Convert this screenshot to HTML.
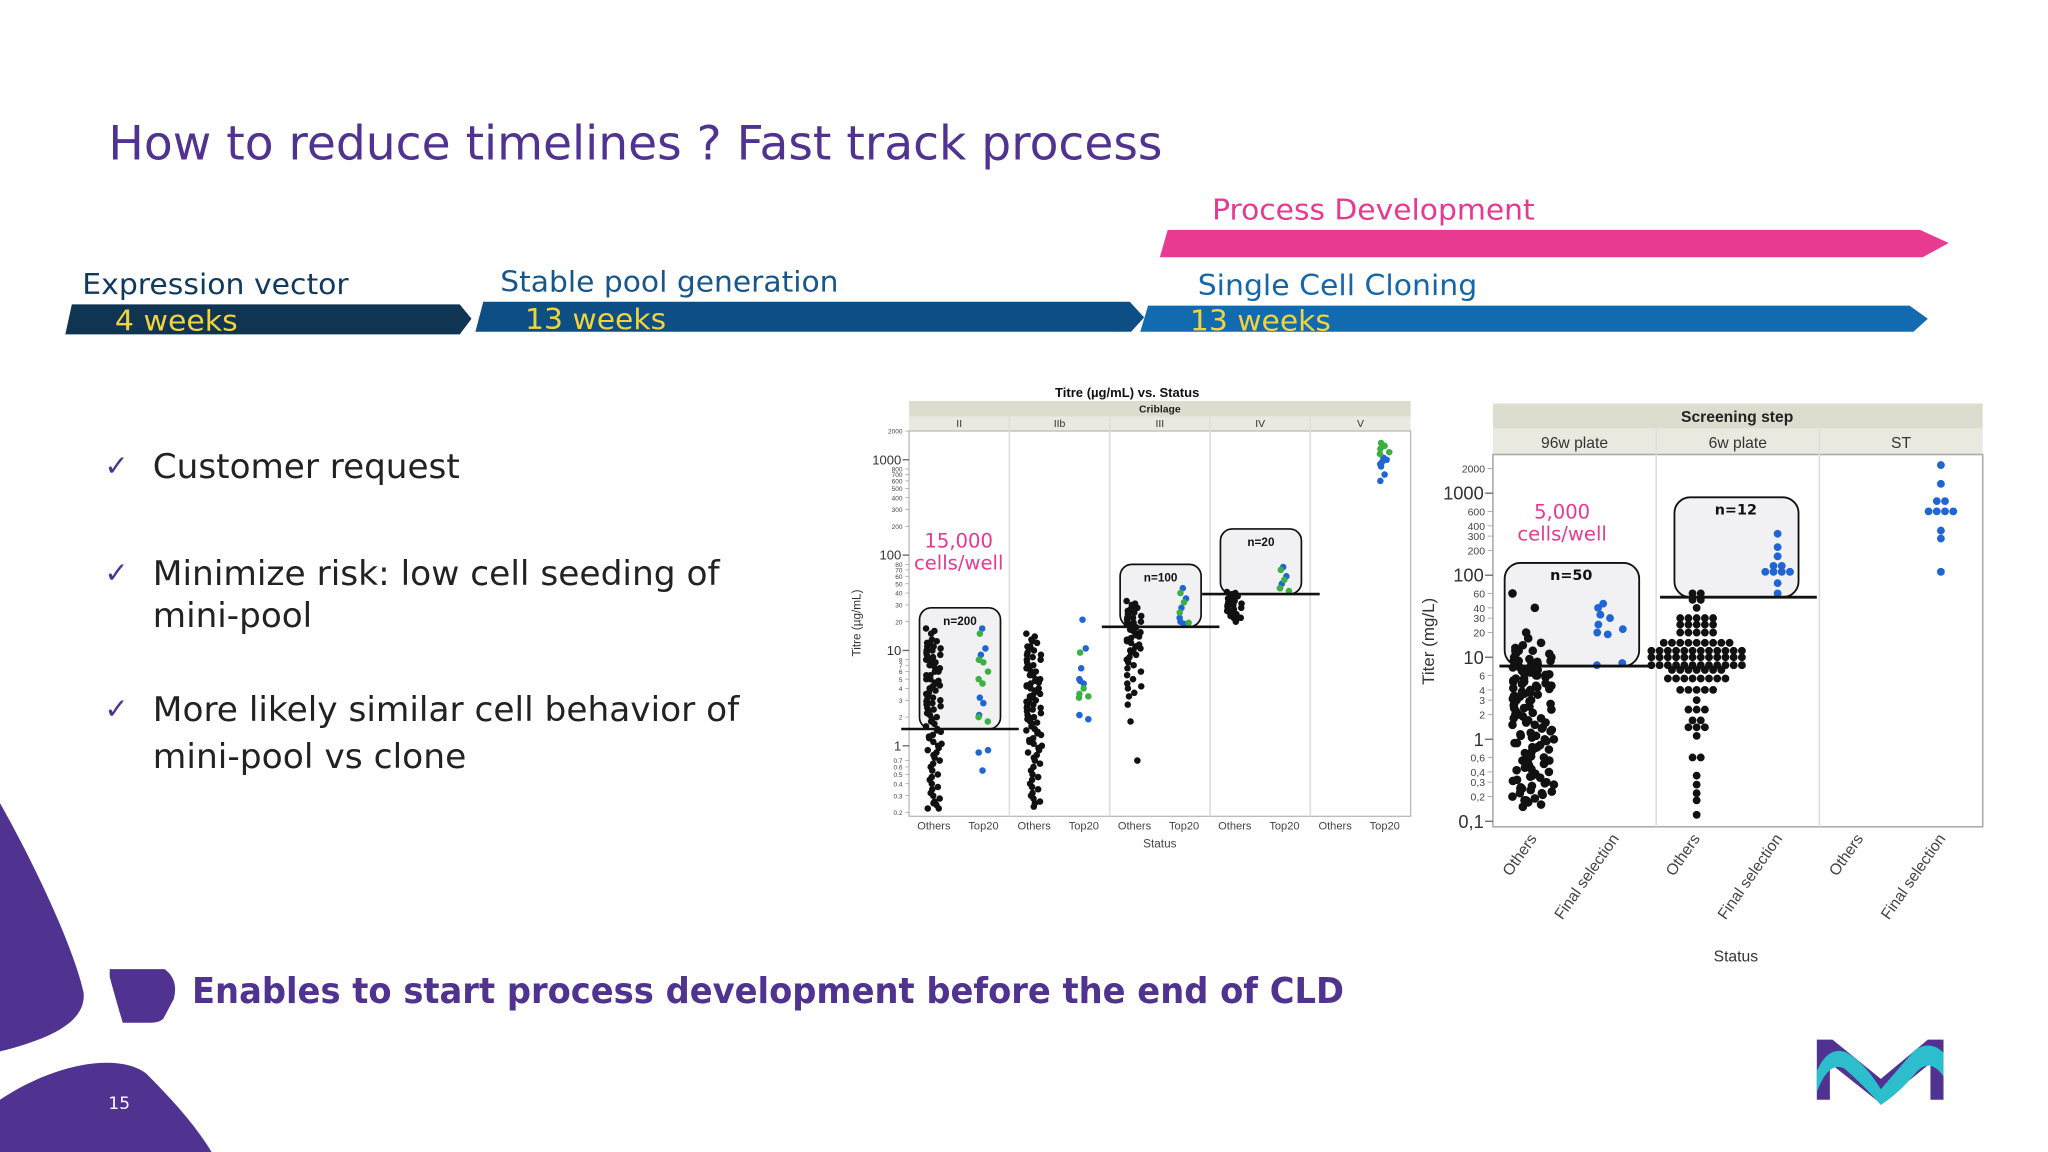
<!DOCTYPE html>
<html><head><meta charset="utf-8"><style>
html,body{margin:0;padding:0;background:#fff;}
svg{display:block;}
.t{font-family:"DejaVu Sans","Liberation Sans",sans-serif;}
.s{font-family:"Liberation Sans",sans-serif;}
</style></head><body>
<svg id="page" width="2048" height="1152" viewBox="0 0 1568 882" xmlns="http://www.w3.org/2000/svg">
<rect width="1568" height="882" fill="#fff"/>
<text class="t" x="83" y="122" font-size="36" fill="#503291" textLength="807" lengthAdjust="spacingAndGlyphs">How to reduce timelines ? Fast track process</text>

<g>
<text class="t" x="928" y="168" font-size="22" fill="#e6398f" textLength="247" lengthAdjust="spacingAndGlyphs">Process Development</text>
<polygon points="894,176 1470,176 1492,186 1472,197 888,197" fill="#e93a91"/>
<text class="t" x="63" y="225" font-size="22" fill="#0f3a5e" textLength="204" lengthAdjust="spacingAndGlyphs">Expression vector</text>
<polygon points="55,233 352,233 361,244 352,256 50,256" fill="#0f3553"/>
<text class="t" x="88" y="253" font-size="22" fill="#f2d33c" textLength="94" lengthAdjust="spacingAndGlyphs">4 weeks</text>
<text class="t" x="383" y="223" font-size="22" fill="#17568a" textLength="259" lengthAdjust="spacingAndGlyphs">Stable pool generation</text>
<polygon points="370,231 865,231 876,243 866,254 364,254" fill="#0d4f84"/>
<text class="t" x="402" y="252" font-size="22" fill="#f2d33c" textLength="108" lengthAdjust="spacingAndGlyphs">13 weeks</text>
<text class="t" x="917" y="226" font-size="22" fill="#1667a8" textLength="214" lengthAdjust="spacingAndGlyphs">Single Cell Cloning</text>
<polygon points="879,234 1462,234 1476,244 1465,254 873,254" fill="#126bb0"/>
<text class="t" x="911" y="253" font-size="22" fill="#f2d33c" textLength="108" lengthAdjust="spacingAndGlyphs">13 weeks</text>
</g>

<g fill="#222">
<text class="t" x="80" y="364" font-size="22" fill="#503291">✓</text>
<text class="t" x="117" y="366" font-size="26" textLength="235" lengthAdjust="spacingAndGlyphs">Customer request</text>
<text class="t" x="80" y="446" font-size="22" fill="#503291">✓</text>
<text class="t" x="117" y="448" font-size="26" textLength="434" lengthAdjust="spacingAndGlyphs">Minimize risk: low cell seeding of</text>
<text class="t" x="117" y="480" font-size="26" textLength="122" lengthAdjust="spacingAndGlyphs">mini-pool</text>
<text class="t" x="80" y="550" font-size="22" fill="#503291">✓</text>
<text class="t" x="117" y="552" font-size="26" textLength="449" lengthAdjust="spacingAndGlyphs">More likely similar cell behavior of</text>
<text class="t" x="117" y="588" font-size="26" textLength="240" lengthAdjust="spacingAndGlyphs">mini-pool vs clone</text>
</g>

<path d="M0,615 C20,650 55,720 64,760 C66,782 40,795 0,805 Z" fill="#503291"/>
<path d="M0,842 C40,815 90,805 112,822 C132,842 150,862 162,882 L0,882 Z" fill="#503291"/>
<text class="t" x="83" y="849" font-size="13" fill="#fff">15</text>
<path d="M84,742 L126,742 Q137,750 133,765 L125,780 Q122,783 116,783 L94,783 Q90,770 84,748 Z" fill="#503291"/>
<text class="t" x="147" y="768" font-size="27" font-weight="bold" fill="#503291" textLength="882" lengthAdjust="spacingAndGlyphs">Enables to start process development before the end of CLD</text>

<g>
<path d="M1391,796 L1403,796 L1440,826 L1476,796 L1488,796 L1488,842 L1478,842 L1478,814 L1440,845 L1401,814 L1401,842 L1391,842 Z" fill="#503291"/>
<path d="M1391,820 Q1400,800 1414,806 Q1428,814 1440,834 Q1452,820 1466,804 Q1478,796 1488,806 L1488,824 Q1478,810 1468,820 Q1455,836 1440,846 Q1426,830 1412,818 Q1400,812 1391,836 Z" fill="#2dbecd"/>
</g>

<g id="left-chart"></g>
<g id="right-chart"></g>
</svg>
<script>
// ---------- Left chart data ----------
const leftPanels = ["II","IIb","III","IV","V"];
const leftStatus = ["Others","Top20"];
const leftMajorTicks = [1000,100,10,1];
const leftMinorTicks = [2000,800,700,600,500,400,300,200,80,70,60,50,40,30,20,8,7,6,5,4,3,2,0.7,0.6,0.5,0.4,0.3,0.2];
const othII = [17,16,15,13,12.5,12,12,11.5,11,11,10.5,10,10,9.5,9,9,8.5,8.5,8,8,7.5,7.5,7,7,6.5,6.5,6,6,5.5,5.5,5,5,4.8,4.6,4.5,4.3,4.2,4,4,3.8,3.6,3.5,3.3,3.2,3,3,2.9,2.8,2.7,2.6,2.5,2.4,2.3,2.2,2.1,2,1.9,1.8,1.7,1.6,1.5,1.45,1.4,1.3,1.25,1.2,1.1,1.05,1,0.95,0.9,0.85,0.8,0.75,0.7,0.65,0.6,0.55,0.5,0.47,0.44,0.4,0.37,0.35,0.32,0.3,0.28,0.26,0.25,0.24,0.22,0.22];
const othIIb = [15,14,13,12.5,12,11,11,10.5,10,9.5,9,9,8.5,8,8,7.5,7,7,6.5,6.5,6,6,5.5,5.5,5,5,4.8,4.6,4.5,4.3,4.2,4,4,3.8,3.7,3.5,3.4,3.3,3.2,3,3,2.9,2.8,2.7,2.6,2.5,2.5,2.4,2.3,2.2,2.1,2,2,1.9,1.8,1.75,1.7,1.6,1.5,1.45,1.4,1.35,1.3,1.2,1.15,1.1,1.05,1,0.95,0.9,0.85,0.8,0.75,0.7,0.65,0.6,0.55,0.5,0.47,0.44,0.4,0.37,0.35,0.32,0.3,0.28,0.26,0.25,0.23];
const othIII = [33,31,30,29,28,27,26,25,25,24,23,22,22,21,20,20,19.5,19,18.5,18,17.5,17,16.5,16,15.5,15,14.5,14,13.5,13,12.5,12,11.5,11,11,10.5,10,10,9.5,9,8.5,8,7.5,7,6.5,6,5.5,5,4.5,4.2,4,3.6,3.3,2.7,1.8,0.7];
const othIV = [41,40,39,38,37,36,35,34,33,32,31,30,30,29,28,28,27,26,26,25,24,24,23,22,22,21,20];
const othV = [];
const topBlue = [[17,10.5,9,8,3.2,2.8,2.1,0.9,0.85,0.55],[21,10.5,6.5,5,4.8,4.5,2.1,1.9],[45,35,28,22,20,19],[75,60,50,45],[1050,1000,950,900,850,700,600]];
const topGreen = [[15,7.5,8,6,5,4.5,2,1.8],[9.5,4,3.5,3.3,3.2],[40,32,25,19.5],[70,55,45,42],[1500,1400,1300,1200,1150]];
const leftOthers = [othII,othIIb,othIII,othIV,othV];
const leftThresh = [1.5,null,17.7,39,null];
const leftBoxTop = [28,null,80,188,null];
const leftN = ["n=200",null,"n=100","n=20",null];

// ---------- Right chart data ----------
const rightPanels = ["96w plate","6w plate","ST"];
const rightStatus = ["Others","Final selection"];
const rightMajorTicks = [1000,100,10,1,0.1];
const rightMajorLabels = ["1000","100","10","1","0,1"];
const rightMinorTicks = [2000,600,400,300,200,60,40,30,20,6,4,3,2,0.6,0.4,0.3,0.2];
const rightMinorLabels = ["2000","600","400","300","200","60","40","30","20","6","4","3","2","0,6","0,4","0,3","0,2"];
const oth96 = [60,40,20,17,15,14,13,12,12,11,10,10,9.5,9,9,8.5,8,8,7.5,7.5,7,7,6.8,6.5,6.2,6,6,5.7,5.5,5.2,5,5,4.8,4.5,4.3,4.1,4,3.8,3.6,3.5,3.3,3.1,3,3,2.8,2.7,2.6,2.5,2.4,2.3,2.2,2.1,2,2,1.9,1.8,1.7,1.6,1.5,1.5,1.4,1.35,1.3,1.2,1.15,1.1,1.05,1,1,0.95,0.9,0.85,0.8,0.78,0.75,0.7,0.68,0.65,0.6,0.58,0.55,0.52,0.5,0.48,0.45,0.43,0.4,0.38,0.36,0.34,0.32,0.3,0.29,0.28,0.27,0.26,0.25,0.24,0.23,0.22,0.21,0.2,0.19,0.18,0.17,0.16,0.15,12,9,7,5.5,4.5,3.4,2.9,1.8,1.25,0.9,0.62,0.42,0.31,0.22,8.2,6.3,4.7,3.7,11,8.8,7.2,6.1,5.1,4.2,3.2,2.4,1.6,1.1,0.8,0.55,0.35,0.25,0.18];
const fin96 = [45,40,33,30,25,22,20,19,8,8.5];
const oth6 = [60,60,50,50,40,30,30,30,30,30,25,25,25,25,25,20,20,20,20,20,15,15,15,15,15,15,15,15,15,12,12,12,12,12,12,12,12,12,12,12,12,10,10,10,10,10,10,10,10,10,10,10,10,8,8,8,8,8,8,8,8,8,8,8,8,7,7,7,7,7,7,7,5.5,5.5,5.5,5.5,5.5,5.5,5.5,5.5,4,4,4,4,4,3,2.3,2.3,2.3,1.7,1.7,1.4,1.4,1.4,1.1,0.6,0.6,0.36,0.28,0.22,0.18,0.12];
const fin6 = [320,220,170,130,130,110,110,110,110,80,60];
const finST = [2200,1300,800,800,600,600,600,600,350,280,110];
const rightOthers = [oth96,oth6,[]];
const rightFinal = [fin96,fin6,finST];
const rightThresh = [7.8,54,null];
const rightBoxTop = [141,890,null];
const rightN = ["n=50","n=12",null];

const NS="http://www.w3.org/2000/svg";
function mk(parent,tag,attrs,text){const e=document.createElementNS(NS,tag);for(const k in attrs)e.setAttribute(k,attrs[k]);if(text!==undefined)e.textContent=text;parent.appendChild(e);return e;}
function jit(k){return ((k*7919+k*k*13)%101)/50.5-1;}

// ---------- Left chart ----------
(function(){
const g=document.getElementById('left-chart');
const X0=696,X1=1080,Y0=330,Y1=625,PW=(X1-X0)/leftPanels.length;
const yL=v=>571-73*Math.log10(v);
const xL=(p,s)=>X0+p*PW+(s===0?19:57);
let t=mk(g,'text',{x:863,y:304,'font-size':10,'font-weight':'bold','text-anchor':'middle',class:'s',fill:'#111'},'Titre (µg/mL) vs. Status');

let r=mk(g,'rect',{x:X0,y:307,width:X1-X0,height:12,fill:'#dcdccf'});

mk(g,'text',{x:888,y:316,'font-size':8,'font-weight':'bold','text-anchor':'middle',class:'s',fill:'#222'},'Criblage');
mk(g,'rect',{x:X0,y:319,width:X1-X0,height:11,fill:'#e9e9df'});
mk(g,'rect',{x:X0,y:Y0,width:X1-X0,height:Y1-Y0,fill:'#fff',stroke:'#bbb','stroke-width':1});
leftPanels.forEach((p,i)=>{
  const h=mk(g,'text',{x:X0+i*PW+PW/2,y:327,'font-size':8,'text-anchor':'middle',class:'s',fill:'#333'},p);
  
  if(i>0){mk(g,'line',{x1:X0+i*PW,x2:X0+i*PW,y1:319,y2:Y1,stroke:'#ddd','stroke-width':1.2});}
  leftStatus.forEach((s,j)=>{
    const l=mk(g,'text',{x:xL(i,j),y:635,'font-size':8.5,'text-anchor':'middle',class:'s',fill:'#444'},s);
    
  });
});
leftMajorTicks.forEach(v=>{mk(g,'line',{x1:X0-5,x2:X0,y1:yL(v),y2:yL(v),stroke:'#666'});
  const l=mk(g,'text',{x:X0-6,y:yL(v)+3.5,'font-size':10,'text-anchor':'end',class:'s',fill:'#333'},String(v));
  });
leftMinorTicks.forEach(v=>{mk(g,'line',{x1:X0-3,x2:X0,y1:yL(v),y2:yL(v),stroke:'#999','stroke-width':0.5});
  mk(g,'text',{x:X0-5,y:yL(v)+2,'font-size':5,'text-anchor':'end',class:'s',fill:'#444'},String(v));});
let yt=mk(g,'text',{x:0,y:0,'font-size':9,'text-anchor':'middle',class:'s',fill:'#333',transform:'translate(659,477) rotate(-90)'},'Titre (µg/mL)');

let xt=mk(g,'text',{x:888,y:649,'font-size':9,'text-anchor':'middle',class:'s',fill:'#444'},'Status');

leftPanels.forEach((p,i)=>{
  if(leftThresh[i]===null)return;
  const yb=yL(leftThresh[i]),yt2=yL(leftBoxTop[i]);
  const b=mk(g,'rect',{x:X0+i*PW+8,y:yt2,width:62,height:yb-yt2,rx:9,fill:'#f1f1f4',stroke:'#111','stroke-width':1.3});
  
  mk(g,'text',{x:X0+i*PW+39,y:yt2+13,'font-size':9,'font-weight':'bold','text-anchor':'middle',class:'s',fill:'#111'},leftN[i]);
});
leftOthers.forEach((arr,i)=>{arr.forEach((v,k)=>{
  const dx=jit(k)*6;
  const c=mk(g,'circle',{cx:xL(i,0)+dx,cy:yL(v),r:2.5,fill:'#111'});
  
});});
topBlue.forEach((arr,i)=>{arr.forEach((v,k)=>{const dx=jit(k+3)*4;
  const c=mk(g,'circle',{cx:xL(i,1)+dx,cy:yL(v),r:2.5,fill:'#1f65d6'});
  });});
topGreen.forEach((arr,i)=>{arr.forEach((v,k)=>{const dx=jit(k+7)*4;
  const c=mk(g,'circle',{cx:xL(i,1)+dx,cy:yL(v),r:2.5,fill:'#3cb043'});
  });});
leftPanels.forEach((p,i)=>{
  if(leftThresh[i]===null)return;
  const l=mk(g,'line',{x1:X0+i*PW-6,x2:X0+i*PW+84,y1:yL(leftThresh[i]),y2:yL(leftThresh[i]),stroke:'#111','stroke-width':2});
  
});
let a1=mk(g,'text',{x:734,y:419,'font-size':15,'text-anchor':'middle',class:'t',fill:'#e6398f'},'15,000');

mk(g,'text',{x:734,y:436,'font-size':15,'text-anchor':'middle',class:'t',fill:'#e6398f'},'cells/well');
})();

// ---------- Right chart ----------
(function(){
const g=document.getElementById('right-chart');
const X0=1143,X1=1518,Y0=348,Y1=633,PW=(X1-X0)/rightPanels.length;
const yR=v=>566-62.8*Math.log10(v);
const xR=(p,s)=>X0+p*PW+(s===0?31:94);
let r=mk(g,'rect',{x:X0,y:309,width:X1-X0,height:19,fill:'#dcdccf'});

mk(g,'text',{x:1330,y:323,'font-size':12,'font-weight':'bold','text-anchor':'middle',class:'s',fill:'#222'},'Screening step');
mk(g,'rect',{x:X0,y:328,width:X1-X0,height:20,fill:'#e9e9df'});
mk(g,'rect',{x:X0,y:Y0,width:X1-X0,height:Y1-Y0,fill:'#fff',stroke:'#aaa','stroke-width':1.2});
rightPanels.forEach((p,i)=>{
  const h=mk(g,'text',{x:X0+i*PW+PW/2,y:343,'font-size':12,'text-anchor':'middle',class:'s',fill:'#333'},p);
  
  if(i>0){mk(g,'line',{x1:X0+i*PW,x2:X0+i*PW,y1:328,y2:Y1,stroke:'#ddd','stroke-width':1.2});}
  rightStatus.forEach((s,j)=>{
    const x=xR(i,j)+3,y=642;
    const l=mk(g,'text',{x:0,y:0,'font-size':12,'text-anchor':'end',class:'s',fill:'#444',transform:`translate(${x},${y}) rotate(-55)`},s);
    
  });
});
rightMajorTicks.forEach((v,k)=>{mk(g,'line',{x1:X0-6,x2:X0,y1:yR(v),y2:yR(v),stroke:'#666'});
  const l=mk(g,'text',{x:X0-7,y:yR(v)+5,'font-size':14,'text-anchor':'end',class:'s',fill:'#333'},rightMajorLabels[k]);
  });
rightMinorTicks.forEach((v,k)=>{mk(g,'line',{x1:X0-4,x2:X0,y1:yR(v),y2:yR(v),stroke:'#999','stroke-width':0.6});
  mk(g,'text',{x:X0-6,y:yR(v)+3,'font-size':8,'text-anchor':'end',class:'s',fill:'#444'},rightMinorLabels[k]);});
let yt=mk(g,'text',{x:0,y:0,'font-size':13,'text-anchor':'middle',class:'s',fill:'#333',transform:'translate(1098,491) rotate(-90)'},'Titer (mg/L)');

let xt=mk(g,'text',{x:1329,y:736,'font-size':12,'text-anchor':'middle',class:'s',fill:'#333'},'Status');

rightPanels.forEach((p,i)=>{
  if(rightThresh[i]===null)return;
  const yb=yR(rightThresh[i]),yt2=yR(rightBoxTop[i]);
  const w=i===0?103:95;
  const b=mk(g,'rect',{x:X0+i*PW+(i===0?9:14),y:yt2,width:w,height:yb-yt2,rx:12,fill:'#f1f1f4',stroke:'#111','stroke-width':1.4});
  
  mk(g,'text',{x:X0+i*PW+(i===0?60:61),y:yt2+13,'font-size':11,'font-weight':'bold','text-anchor':'middle',class:'t',fill:'#111'},rightN[i]);
});
rightOthers.forEach((arr,i)=>{
  if(i===0){arr.forEach((v,k)=>{const dx=jit(k)*16;
    const c=mk(g,'circle',{cx:xR(i,0)+dx,cy:yR(v),r:3.3,fill:'#111'});
    });}
  else{const groups={};arr.forEach(v=>{groups[v]=(groups[v]||0)+1;});
    Object.keys(groups).forEach(key=>{const n=groups[key];for(let j=0;j<n;j++){
      const c=mk(g,'circle',{cx:xR(i,0)+(j-(n-1)/2)*6.3,cy:yR(+key),r:3,fill:'#111'});
      }});}
});
rightFinal.forEach((arr,i)=>{
  if(i===0){arr.forEach((v,k)=>{const dx=jit(k+5)*11;
    const c=mk(g,'circle',{cx:xR(i,1)-4+dx,cy:yR(v),r:3,fill:'#1f65d6'});
    });}
  else{const groups={};arr.forEach(v=>{groups[v]=(groups[v]||0)+1;});
    Object.keys(groups).forEach(key=>{const n=groups[key];for(let j=0;j<n;j++){
      const c=mk(g,'circle',{cx:xR(i,1)-1+(j-(n-1)/2)*6.3,cy:yR(+key),r:3,fill:'#1f65d6'});
      }});}
});
rightPanels.forEach((p,i)=>{
  if(rightThresh[i]===null)return;
  const l=mk(g,'line',{x1:X0+i*PW+(i===0?5:3),x2:X0+i*PW+(i===0?119:123),y1:yR(rightThresh[i]),y2:yR(rightThresh[i]),stroke:'#111','stroke-width':2.2});
  
});
let a=mk(g,'text',{x:1196,y:397,'font-size':15,'text-anchor':'middle',class:'t',fill:'#e6398f'},'5,000');

mk(g,'text',{x:1196,y:414,'font-size':15,'text-anchor':'middle',class:'t',fill:'#e6398f'},'cells/well');
})();
</script>
</body></html>
